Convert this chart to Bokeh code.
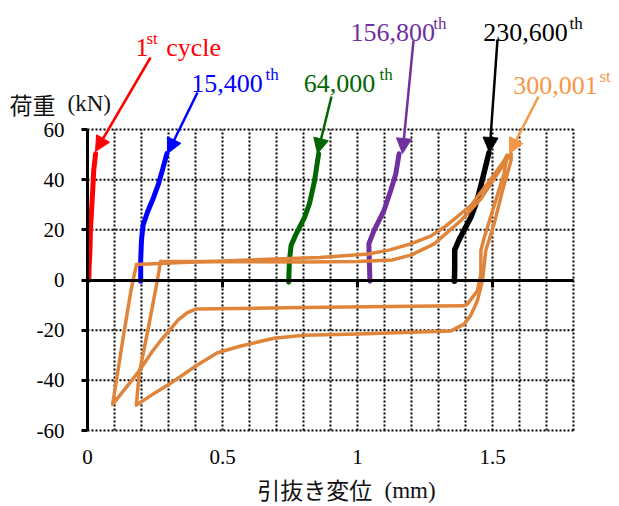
from bokeh.plotting import figure
from bokeh.models import (Range1d, FixedTicker, LinearAxis, Arrow, NormalHead,
                          Label, NumeralTickFormatter)
from bokeh.embed import file_html
from bokeh.resources import INLINE

# ---------------- data ----------------
x_ticks = [0, 0.5, 1, 1.5]
x_grid = [round(i * 0.1, 1) for i in range(19)]
y_ticks = [-60, -40, -20, 0, 20, 40, 60]
zero_ticks = [0.5, 1, 1.5]

red_x = [0.005, 0.006, 0.009, 0.011, 0.015, 0.020, 0.023, 0.030]
red_y = [-0.2, 5.0, 11.8, 20.4, 27.7, 37.0, 43.7, 50.3]

blue_x = [0.197, 0.197, 0.200, 0.206, 0.222, 0.245, 0.262, 0.278, 0.294]
blue_y = [-0.5, 8.0, 16.0, 22.0, 27.0, 33.0, 38.0, 44.0, 50.4]

green_x = [0.745, 0.748, 0.754, 0.773, 0.804, 0.822, 0.841, 0.856]
green_y = [-0.9, 7.8, 13.8, 18.4, 25.0, 30.4, 39.6, 50.3]

purple_x = [1.046, 1.044, 1.042, 1.061, 1.098, 1.123, 1.142, 1.154]
purple_y = [-0.5, 7.0, 14.4, 19.7, 27.7, 35.7, 42.4, 50.3]

black_x = [1.359, 1.360, 1.360, 1.376, 1.420, 1.443, 1.468, 1.487]
black_y = [-0.5, 5.0, 12.0, 16.0, 25.0, 31.7, 42.4, 50.8]

orange_a_x = [0.181, 0.35, 0.60, 0.86, 1.04, 1.12, 1.197, 1.271, 1.321, 1.42, 1.481, 1.543, 1.554,
              1.543, 1.512, 1.469, 1.457, 1.457, 1.444, 1.407, 1.39, 1.2, 0.8, 0.401,
              0.37, 0.335, 0.302, 0.27, 0.241, 0.191, 0.142, 0.093,
              0.130, 0.161, 0.179, 0.181]
orange_a_y = [6.2, 7.0, 8.0, 9.0, 10.4, 12.0, 14.4, 17.5, 21.0, 29.7, 38.4, 47.5, 49.8,
              42.5, 31.7, 16.8, 11.7, 2.5, -4.3, -9.6, -10.3, -10.5, -11.0, -11.6,
              -13.0, -16.0, -20.3, -24.3, -28.3, -36.3, -43.0, -49.6,
              -24.3, -4.2, 5.0, 6.2]

orange_b_x = [0.271, 0.5, 0.8, 1.0, 1.13, 1.2, 1.284, 1.383, 1.457, 1.531, 1.569,
              1.569, 1.537, 1.506, 1.475, 1.463, 1.444, 1.42, 1.395, 1.346, 1.2, 1.0, 0.8,
              0.691, 0.568, 0.481, 0.401, 0.302, 0.241, 0.181,
              0.191, 0.228, 0.259, 0.267, 0.271]
orange_b_y = [7.5, 7.3, 7.2, 7.4, 8.0, 10.0, 14.4, 23.7, 32.4, 44.4, 50.4,
              47.7, 35.7, 22.4, 11.7, 0.0, -8.3, -14.0, -17.6, -20.3, -20.8, -21.5, -22.0,
              -23.2, -26.3, -29.0, -34.3, -41.6, -45.6, -49.9,
              -37.6, -17.6, 0.0, 5.0, 7.5]

# ---------------- figure ----------------
W, H = 615, 504
PX0, PX1, PYT, PYB = 87, 573, 129, 430          # pixel box of the data area
XMIN, XMAX = x_grid[0], x_grid[-1]
YMIN, YMAX = y_ticks[0], y_ticks[-1]
SX = (PX1 - PX0) / (XMAX - XMIN)
SY = (PYB - PYT) / (YMAX - YMIN)

def dx(px):
    return XMIN + (px - PX0) / SX
def dy(py):
    return YMAX - (py - PYT) / SY

p = figure(width=W, height=H,
           x_range=Range1d(dx(0), dx(W)), y_range=Range1d(dy(H), dy(0)),
           output_backend="svg", toolbar_location=None,
           x_axis_location=None, y_axis_location=None,
           min_border=0)
p.outline_line_color = None
p.background_fill_color = "white"
p.border_fill_color = "white"
p.xgrid.visible = False
p.ygrid.visible = False

serif = "Liberation Serif"

# dotted grid (also forms the dotted top / right / bottom border)
grid_style = dict(line_color="black", line_dash="2 2", line_width=2)
p.segment(x0=x_grid, y0=[YMIN] * len(x_grid), x1=x_grid, y1=[YMAX] * len(x_grid), **grid_style)
p.segment(x0=[XMIN] * len(y_ticks), y0=y_ticks, x1=[XMAX] * len(y_ticks), y1=y_ticks, **grid_style)

# ---------------- curves ----------------
common = dict(line_join="round", line_cap="round")
p.line(red_x, red_y, line_color="#FF0000", line_width=5, **common)
p.line(blue_x, blue_y, line_color="#0000FF", line_width=5, **common)
p.line(green_x, green_y, line_color="#006600", line_width=5, **common)
p.line(purple_x, purple_y, line_color="#7030A0", line_width=5, **common)
p.line(black_x, black_y, line_color="#000000", line_width=5.5, **common)
p.line(orange_a_x, orange_a_y, line_color="#E0843A", line_width=3.5, **common)
p.line(orange_b_x, orange_b_y, line_color="#E0843A", line_width=3.5, **common)

# ---------------- axes ----------------
ya = LinearAxis(fixed_location=0, bounds=(YMIN, YMAX), ticker=FixedTicker(ticks=y_ticks),
                formatter=NumeralTickFormatter(format="0"),
                axis_line_width=3, axis_line_color="black",
                major_tick_line_width=3, major_tick_out=6, major_tick_in=0,
                minor_tick_line_color=None,
                major_label_text_font=serif, major_label_text_font_size="21px",
                major_label_text_color="black", major_label_standoff=17)
p.add_layout(ya, "left")

xa = LinearAxis(fixed_location=YMIN, bounds=(XMIN, XMAX), ticker=FixedTicker(ticks=x_ticks),
                formatter=NumeralTickFormatter(format="0.[0]"),
                axis_line_color=None, major_tick_line_color=None,
                major_tick_out=0, major_tick_in=0, minor_tick_line_color=None,
                major_label_text_font=serif, major_label_text_font_size="21px",
                major_label_text_color="black", major_label_standoff=19)
p.add_layout(xa, "below")

za = LinearAxis(fixed_location=0, bounds=(XMIN, XMAX), ticker=FixedTicker(ticks=zero_ticks),
                axis_line_width=3, axis_line_color="black",
                major_tick_line_width=3, major_tick_in=7, major_tick_out=0,
                minor_tick_line_color=None, major_label_text_font_size="1px",
                major_label_text_alpha=0, major_label_standoff=0)
p.add_layout(za, "above")

# ---------------- arrows ----------------
arrows = [
    ("#FF0000", (150, 57), (95, 151)),
    ("#0000FF", (197, 92), (167, 153)),
    ("#006600", (331, 96), (317, 153)),
    ("#7030A0", (413, 40), (402, 153)),
    ("#000000", (497, 39), (489, 152)),
    ("#F79646", (538, 96), (509, 153)),
]
for c, (x0, y0), (x1, y1) in arrows:
    p.add_layout(Arrow(x_start=dx(x0), y_start=dy(y0), x_end=dx(x1), y_end=dy(y1),
                       line_color=c, line_width=2.5,
                       end=NormalHead(size=15, fill_color=c, line_color=c, line_width=1)))

# ---------------- labels ----------------
def lab(text, px, py, size, color, font=serif):
    p.add_layout(Label(x=dx(px), y=dy(py), text=text, text_font=font,
                       text_font_size=size, text_color=color,
                       text_align="left", text_baseline="alphabetic"))

big, sup = "26px", "17px"
lab("1", 135, 46.5, big, "#FF0000")
lab("st", 146, 37.5, sup, "#FF0000")
lab("cycle", 165.7, 46.5, big, "#FF0000")
lab("15,400", 190.7, 83.3, big, "#0000FF")
lab("th", 265, 74, sup, "#0000FF")
lab("64,000", 303.3, 83.3, big, "#006600")
lab("th", 379, 74, sup, "#006600")
lab("156,800", 350, 31.7, big, "#7030A0")
lab("th", 432.7, 22.5, sup, "#7030A0")
lab("230,600", 482.7, 31.7, big, "#000000")
lab("th", 569, 22.5, sup, "#000000")
lab("300,001", 512.7, 85, big, "#F79646")
lab("st", 599, 76, sup, "#F79646")

lab("荷重", 9, 103, "23px", "#111111", "Noto Sans CJK JP")
lab("(kN)", 67, 103, "23px", "#111111")
lab("引抜き変位", 256.7, 488, "23px", "#111111", "Noto Sans CJK JP")
lab("(mm)", 384, 490, "23px", "#111111")

open("out.html", "w").write(file_html(p, INLINE))
